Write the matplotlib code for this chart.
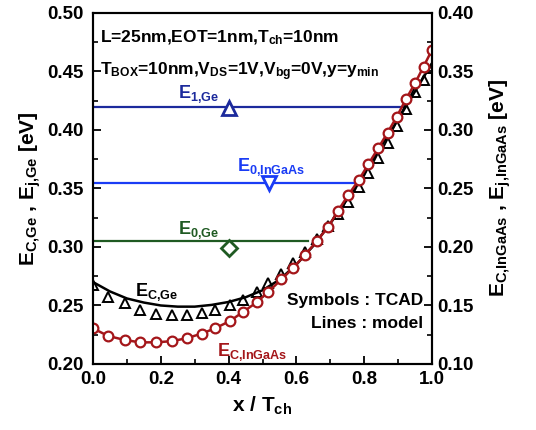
import matplotlib
matplotlib.use("Agg")
import matplotlib.pyplot as plt

plt.rcParams['font.family'] = ['Liberation Sans', 'DejaVu Sans']
plt.rcParams['font.weight'] = 'bold'
plt.rcParams['axes.labelweight'] = 'bold'
plt.rcParams['mathtext.fontset'] = 'custom'
plt.rcParams['mathtext.rm'] = 'Liberation Sans:bold'
plt.rcParams['mathtext.bf'] = 'Liberation Sans:bold'
plt.rcParams['mathtext.it'] = 'Liberation Sans:bold'
plt.rcParams['mathtext.default'] = 'bf'

# TCAD sample positions (x / Tch)
x_tcad = [0.0, 0.044, 0.094, 0.139, 0.185, 0.232, 0.276, 0.321, 0.36, 0.404,
          0.443, 0.483, 0.517, 0.556, 0.591, 0.625, 0.66, 0.694, 0.723, 0.753,
          0.784, 0.812, 0.841, 0.869, 0.896, 0.923, 0.95, 0.975, 1.0]
# E_C,Ge TCAD (left axis, eV)
ec_ge_tcad = [0.2675, 0.2575, 0.2518, 0.246, 0.2424, 0.2418, 0.2418, 0.2438, 0.246, 0.2503,
              0.2546, 0.2612, 0.2689, 0.277, 0.286, 0.296, 0.307, 0.318, 0.328, 0.3385,
              0.351, 0.363, 0.376, 0.389, 0.403, 0.418, 0.432, 0.443, 0.453]
# E_C,InGaAs TCAD (right axis, eV)
ec_ingaas_tcad = [0.1305, 0.124, 0.1205, 0.1185, 0.1185, 0.1195, 0.122, 0.126, 0.1305, 0.1367,
                  0.1446, 0.1527, 0.1617, 0.1723, 0.1823, 0.1931, 0.205, 0.2173, 0.231, 0.2444,
                  0.2572, 0.2706, 0.2843, 0.2977, 0.3113, 0.3262, 0.3399, 0.3541, 0.3684]

# model lines
x_model = [0.0, 0.05, 0.1, 0.15, 0.2, 0.25, 0.3, 0.35, 0.4, 0.45, 0.5,
           0.55, 0.6, 0.65, 0.7, 0.75, 0.8, 0.85, 0.9, 0.95, 1.0]
ec_ge_model = [0.270, 0.262, 0.256, 0.2525, 0.250, 0.249, 0.249, 0.2505, 0.253, 0.257, 0.263,
               0.272, 0.285, 0.301, 0.320, 0.341, 0.363, 0.386, 0.409, 0.433, 0.457]

# subband levels (left axis)
e1_ge, e1_ge_end, e1_ge_x, e1_ge_tcad = 0.42, 0.92, 0.40, 0.419
e0_ingaas, e0_ingaas_end, e0_ingaas_x, e0_ingaas_tcad = 0.355, 0.773, 0.52, 0.355
e0_ge, e0_ge_end, e0_ge_x, e0_ge_tcad = 0.305, 0.635, 0.40, 0.299

navy = '#1c2a9c'
blue = '#1a3cf5'
green = '#1f5a22'
red = '#a4161a'

fig = plt.figure(figsize=(5.36, 4.30), dpi=100)
ax = fig.add_axes([0.1735, 0.1535, 0.6325, 0.8165])
ax2 = ax.twinx()

ax.plot([0, e1_ge_end], [e1_ge, e1_ge], color=navy, lw=1.6)
ax.plot(e1_ge_x, e1_ge_tcad, '^', ms=10, mfc='white', mec=navy, mew=2)
ax.plot([0, e0_ingaas_end], [e0_ingaas, e0_ingaas], color=blue, lw=1.6)
ax.plot(e0_ingaas_x, e0_ingaas_tcad, 'v', ms=10, mfc='white', mec=blue, mew=2)
ax.plot([0, e0_ge_end], [e0_ge, e0_ge], color=green, lw=1.6)
ax.plot(e0_ge_x, e0_ge_tcad, 'D', ms=8, mfc='white', mec=green, mew=2)

ax.plot(x_model, ec_ge_model, color='black', lw=1.8, zorder=3)
ax.plot(x_tcad, ec_ge_tcad, '^', ls='none', ms=7.5, mfc='none', mec='black', mew=1.4, zorder=3)
ax2.plot(x_tcad, ec_ingaas_tcad, color=red, lw=1.8, marker='o', ms=7,
         mfc='white', mec=red, mew=1.6)

ax.set_xlim(0, 1)
ax.set_ylim(0.20, 0.50)
ax2.set_ylim(0.10, 0.40)
ax.set_xticks([0, 0.2, 0.4, 0.6, 0.8, 1.0])
ax.set_xticks([0.1, 0.3, 0.5, 0.7, 0.9], minor=True)
ax.set_yticks([0.20, 0.25, 0.30, 0.35, 0.40, 0.45, 0.50])
ax.set_yticks([0.225, 0.275, 0.325, 0.375, 0.425, 0.475], minor=True)
ax2.set_yticks([0.10, 0.15, 0.20, 0.25, 0.30, 0.35, 0.40])
ax2.set_yticks([0.125, 0.175, 0.225, 0.275, 0.325, 0.375], minor=True)
ax.xaxis.set_major_formatter(plt.FormatStrFormatter('%.1f'))
ax.yaxis.set_major_formatter(plt.FormatStrFormatter('%.2f'))
ax2.yaxis.set_major_formatter(plt.FormatStrFormatter('%.2f'))

for a in (ax, ax2):
    a.tick_params(which='major', direction='in', length=6, width=1.3, labelsize=13.5)
    a.tick_params(which='minor', direction='in', length=3.5, width=1.2)
    for s in a.spines.values():
        s.set_linewidth(1.5)
ax.tick_params(axis='y', pad=7)
ax.tick_params(axis='x', top=False, pad=5)

ax.set_xlabel('x / T$_{ch}$', fontsize=15, labelpad=5)
ax.set_ylabel('E$_{C{,}Ge}$ , E$_{j{,}Ge}$ [eV]', fontsize=15, labelpad=3)
ax2.set_ylabel('E$_{C{,}InGaAs}$ , E$_{j{,}InGaAs}$ [eV]', fontsize=15, labelpad=10)

ax.text(0.02, 0.475, 'L=25nm,EOT=1nm,T$_{ch}$=10nm', fontsize=12.5)
ax.text(0.02, 0.447, 'T$_{BOX}$=10nm,V$_{DS}$=1V,V$_{bg}$=0V,y=y$_{min}$', fontsize=12.5)
ax.text(0.25, 0.427, 'E$_{1{,}Ge}$', color=navy, fontsize=13)
ax.text(0.425, 0.365, 'E$_{0{,}InGaAs}$', color=blue, fontsize=13)
ax.text(0.25, 0.311, 'E$_{0{,}Ge}$', color=green, fontsize=13)
ax.text(0.124, 0.258, 'E$_{C{,}Ge}$', color='black', fontsize=13)
ax.text(0.365, 0.207, 'E$_{C{,}InGaAs}$', color=red, fontsize=13)
ax.text(0.975, 0.2545, 'Symbols : TCAD', ha='right', va='center', fontsize=12.5)
ax.text(0.975, 0.235, 'Lines : model', ha='right', va='center', fontsize=12.5)

fig.savefig('out.png', dpi=100)
